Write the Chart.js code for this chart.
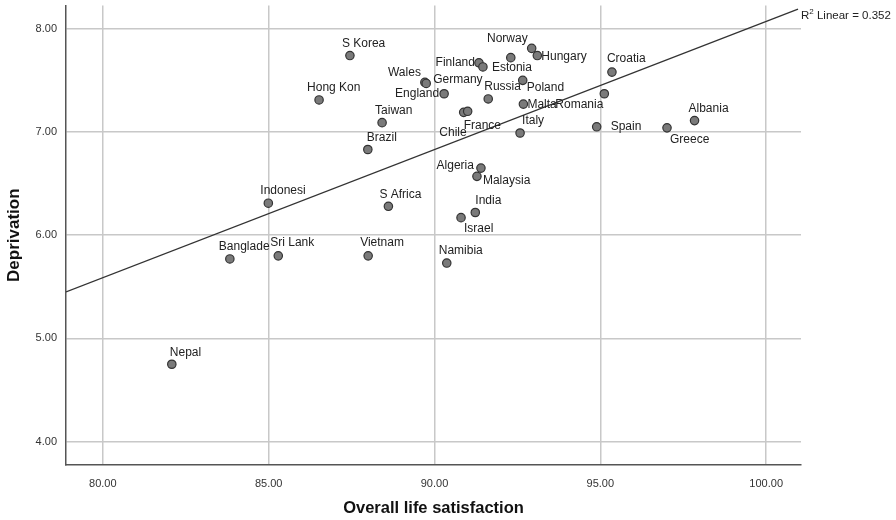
<!DOCTYPE html>
<html>
<head>
<meta charset="utf-8">
<script src="https://cdn.jsdelivr.net/npm/chart.js@4/dist/chart.umd.min.js"></script>
<style>
  html, body { margin: 0; padding: 0; background: #fff; }
  #wrap { width: 896px; height: 520px; position: relative; }
</style>
</head>
<body>
<div id="wrap"><canvas id="c" width="896" height="520"></canvas></div>
<script>
// ---- data ----
const countries = ["S Korea","Hong Kon","Wales","Germany","England","Finland","Estonia","Norway","Hungary","",
  "Russia","Poland","Malta","Romania","Croatia","France","Chile","Taiwan","Brazil","Italy","Spain","Greece","Albania",
  "Algeria","Malaysia","India","Israel","S Africa","Vietnam","Namibia","Indonesi","Banglade","Sri Lank","Nepal"];
const lifeSatisfaction = [87.45,86.52,89.71,89.75,90.29,91.34,91.46,92.93,93.10,92.30,
  91.62,92.66,92.68,95.12,95.35,90.88,91.00,88.42,87.99,92.58,94.89,97.01,97.84,
  91.40,91.28,91.23,90.80,88.61,88.00,90.37,84.99,83.83,85.29,82.08];
const deprivation = [7.74,7.31,7.48,7.47,7.37,7.67,7.63,7.81,7.74,7.72,
  7.32,7.50,7.27,7.37,7.58,7.19,7.20,7.09,6.83,6.99,7.05,7.04,7.11,
  6.65,6.57,6.22,6.17,6.28,5.80,5.73,6.31,5.77,5.80,4.75];
const fitLineX = [78.89, 100.96];
const fitLineY = [5.45, 8.19];
const xTickValues = [80, 85, 90, 95, 100];
const yTickValues = [4, 5, 6, 7, 8];
const rSquared = "0.352";

// ---- label placement (style only) ----
const labelPlacement = {
  "S Korea":["left",-8,-12], "Hong Kon":["left",-12,-12], "Wales":["right",-4,-10], "Germany":["left",7,-4],
  "England":["right",-5,0], "Finland":["right",-4,0], "Estonia":["left",9,1], "Norway":["right",-4,-10],
  "Hungary":["left",4,1], "Russia":["left",-4,-12], "Poland":["left",4,7], "Malta":["left",4,1],
  "Romania":["right",-1,11], "Croatia":["left",-5,-13], "France":["left",0,13], "Chile":["right",-1,21],
  "Taiwan":["left",-7,-12], "Brazil":["left",-1,-12], "Italy":["left",2,-12], "Spain":["left",14,0],
  "Greece":["left",3,12], "Albania":["left",-6,-12], "Algeria":["right",-7,-2], "Malaysia":["left",6,4],
  "India":["left",0,-12], "Israel":["left",3,11], "S Africa":["left",-9,-12], "Vietnam":["left",-8,-13],
  "Namibia":["left",-8,-12], "Indonesi":["left",-8,-13], "Banglade":["left",-11,-12], "Sri Lank":["left",-8,-13],
  "Nepal":["left",-2,-12]
};

const FONT = "'Liberation Sans', Arial, sans-serif";

const points = lifeSatisfaction.map((x, i) => ({ x: x, y: deprivation[i] }));
const fitPoints = fitLineX.map((x, i) => ({ x: x, y: fitLineY[i] }));

const labelPlugin = {
  id: 'pointLabels',
  afterDatasetsDraw(chart) {
    const ctx = chart.ctx;
    const meta = chart.getDatasetMeta(1);
    ctx.save();
    ctx.font = "12px " + FONT;
    ctx.fillStyle = "#222";
    ctx.textBaseline = "middle";
    meta.data.forEach((el, i) => {
      const name = countries[i];
      if (!name) return;
      const p = labelPlacement[name] || ["left", 6, -12];
      ctx.textAlign = p[0];
      ctx.fillText(name, el.x + p[1], el.y + p[2]);
    });
    // R² annotation at end of fit line
    const lm = chart.getDatasetMeta(0).data;
    const end = lm[lm.length - 1];
    let x = end.x + 3, y = end.y + 7;
    ctx.textAlign = "left";
    ctx.font = "11.5px " + FONT;
    ctx.fillText("R", x, y);
    x += ctx.measureText("R").width;
    ctx.font = "8px " + FONT;
    ctx.fillText("2", x, y - 4);
    x += ctx.measureText("2").width;
    ctx.font = "11.5px " + FONT;
    ctx.fillText(" Linear = " + rSquared, x, y);
    ctx.restore();
  }
};

new Chart(document.getElementById('c'), {
  type: 'scatter',
  data: {
    datasets: [
      { type: 'line', data: fitPoints, borderColor: '#333', borderWidth: 1.3, pointRadius: 0, fill: false, tension: 0, order: 2 },
      { data: points, backgroundColor: '#7a7a7a', borderColor: '#333', borderWidth: 1.2, pointRadius: 4.2, order: 1 }
    ]
  },
  options: {
    responsive: false,
    animation: false,
    events: [],
    layout: { padding: { top: 5, right: 95, left: 0, bottom: 0 } },
    plugins: { legend: { display: false }, tooltip: { enabled: false } },
    scales: {
      x: {
        type: 'linear', min: 78.89, max: 101.05,
        afterFit(s) { s.height = 55; s.paddingLeft = 0; s.paddingRight = 0; },
        afterBuildTicks(s) { s.ticks = xTickValues.map(v => ({ value: v })); },
        ticks: { includeBounds: false, padding: 12, color: '#333', font: { family: FONT, size: 11 }, callback: v => Number(v).toFixed(2) },
        grid: { color: '#c8c8c8', lineWidth: 1.5, drawTicks: false },
        border: { display: true, color: '#555', width: 1.5 },
        title: { display: true, text: 'Overall life satisfaction', color: '#111', font: { family: FONT, size: 16.5, weight: 'bold' }, padding: { top: 0, bottom: 1.5 } }
      },
      y: {
        type: 'linear', min: 3.774, max: 8.226,
        afterFit(s) { s.width = 66; s.paddingTop = 0; s.paddingBottom = 0; },
        afterBuildTicks(s) { s.ticks = yTickValues.map(v => ({ value: v })); },
        ticks: { includeBounds: false, padding: 9, color: '#333', font: { family: FONT, size: 11 }, callback: v => Number(v).toFixed(2) },
        grid: { color: '#c8c8c8', lineWidth: 1.5, drawTicks: false },
        border: { display: true, color: '#555', width: 1.5 },
        title: { display: true, text: 'Deprivation', color: '#111', font: { family: FONT, size: 17, weight: 'bold' }, padding: { top: 4, bottom: 0 } }
      }
    }
  },
  plugins: [labelPlugin]
});
</script>
</body>
</html>
